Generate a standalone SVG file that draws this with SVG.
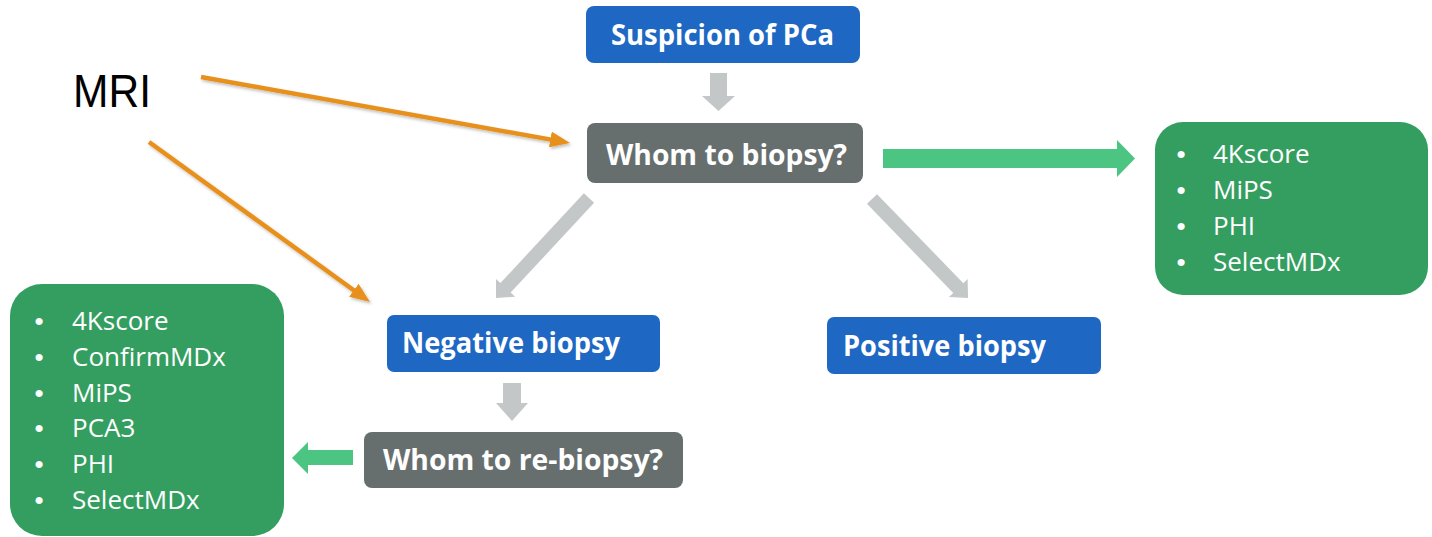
<svg xmlns="http://www.w3.org/2000/svg" width="1432" height="537" viewBox="0 0 1432 537">
  <style>
    .blue { fill: #1e68c3; }
    .gray { fill: #676f6e; }
    .gbox { fill: #349e61; }
    .lbl { font-family: "Open Sans", "Noto Sans", "Liberation Sans", sans-serif; font-weight: bold; font-size: 28px; fill: #ffffff; }
    .item { font-family: "Open Sans", "Noto Sans", "Liberation Sans", sans-serif; font-size: 26px; fill: #ffffff; }
    .bul { font-family: "Liberation Sans", "DejaVu Sans", sans-serif; font-size: 26px; fill: #ffffff; text-anchor: middle; }
    .garrow { fill: #c4c7c8; }
    .grarrow { fill: #4cc582; }
    .orange { stroke: #e8901c; stroke-width: 4.5; fill: none; }
  </style>
  <defs>
    <marker id="oh" markerUnits="userSpaceOnUse" markerWidth="20" markerHeight="16" viewBox="0 0 20 16" refX="8" refY="8" orient="auto">
      <path d="M0,0 L20,8 L0,16 z" fill="#e8901c"/>
    </marker>
    <filter id="sh" x="-10%" y="-10%" width="120%" height="130%">
      <feDropShadow dx="1.5" dy="2" stdDeviation="1.5" flood-color="#000000" flood-opacity="0.25"/>
    </filter>
  </defs>
  <rect width="1432" height="537" fill="#ffffff"/>

  <g id="connectors">
    <polygon class="garrow" points="710,73 727,73 727,96 735,96 718.5,111 702,96 710,96"/>
    <polygon class="garrow" transform="translate(589,198) rotate(132.9)" points="0,-7 122.6,-7 122.6,-13 136.6,0 122.6,13 122.6,7 0,7"/>
    <polygon class="garrow" transform="translate(872,199) rotate(45.9)" points="0,-7 124,-7 124,-13 138,0 124,13 124,7 0,7"/>
    <polygon class="garrow" points="503,383 521,383 521,403 528,403 512,421 496,403 503,403"/>
    <polygon class="grarrow" points="883,149 1117,149 1117,140 1135,158.5 1117,177 1117,168 883,168"/>
    <polygon class="grarrow" points="353,450 308,450 308,442 292,458 308,474 308,465 353,465"/>
    <g filter="url(#sh)">
      <line class="orange" x1="201" y1="77" x2="558.2" y2="140.9" marker-end="url(#oh)"/>
      <line class="orange" x1="149" y1="142" x2="360.3" y2="295.0" marker-end="url(#oh)"/>
    </g>
  </g>

  <g id="mri">
    <text x="73" y="107" font-family="Liberation Sans, Arial, sans-serif" font-size="46" fill="#000000" textLength="78" lengthAdjust="spacingAndGlyphs">MRI</text>
  </g>

  <g id="suspicion">
    <rect class="blue" x="586" y="6" width="274" height="57" rx="8"/>
    <text class="lbl" x="611" y="45" textLength="223" lengthAdjust="spacingAndGlyphs">Suspicion of PCa</text>
  </g>

  <g id="whom">
    <rect class="gray" x="587" y="123" width="276" height="60" rx="8"/>
    <text class="lbl" x="606" y="165" textLength="241" lengthAdjust="spacingAndGlyphs">Whom to biopsy?</text>
  </g>

  <g id="negative">
    <rect class="blue" x="387" y="315" width="273" height="57" rx="7"/>
    <text class="lbl" x="402" y="353" textLength="218" lengthAdjust="spacingAndGlyphs">Negative biopsy</text>
  </g>

  <g id="positive">
    <rect class="blue" x="827" y="317" width="274" height="57" rx="7"/>
    <text class="lbl" x="843" y="356" textLength="203" lengthAdjust="spacingAndGlyphs">Positive biopsy</text>
  </g>

  <g id="rebiopsy">
    <rect class="gray" x="364" y="432" width="319" height="56" rx="8"/>
    <text class="lbl" x="383" y="470" textLength="280" lengthAdjust="spacingAndGlyphs">Whom to re-biopsy?</text>
  </g>

  <g id="markers-right">
    <rect class="gbox" x="1155" y="122" width="273" height="173" rx="28"/>
    <text class="bul" x="1181" y="163">•</text>
    <text class="item" x="1213" y="163">4Kscore</text>
    <text class="bul" x="1181" y="199">•</text>
    <text class="item" x="1213" y="199">MiPS</text>
    <text class="bul" x="1181" y="235">•</text>
    <text class="item" x="1213" y="235">PHI</text>
    <text class="bul" x="1181" y="271">•</text>
    <text class="item" x="1213" y="271">SelectMDx</text>
  </g>

  <g id="markers-left">
    <rect class="gbox" x="10" y="284" width="274" height="252" rx="32"/>
    <text class="bul" x="39" y="330">•</text>
    <text class="item" x="72" y="330">4Kscore</text>
    <text class="bul" x="39" y="366">•</text>
    <text class="item" x="72" y="366">ConfirmMDx</text>
    <text class="bul" x="39" y="402">•</text>
    <text class="item" x="72" y="402">MiPS</text>
    <text class="bul" x="39" y="437">•</text>
    <text class="item" x="72" y="437">PCA3</text>
    <text class="bul" x="39" y="473">•</text>
    <text class="item" x="72" y="473">PHI</text>
    <text class="bul" x="39" y="509">•</text>
    <text class="item" x="72" y="509">SelectMDx</text>
  </g>
</svg>
